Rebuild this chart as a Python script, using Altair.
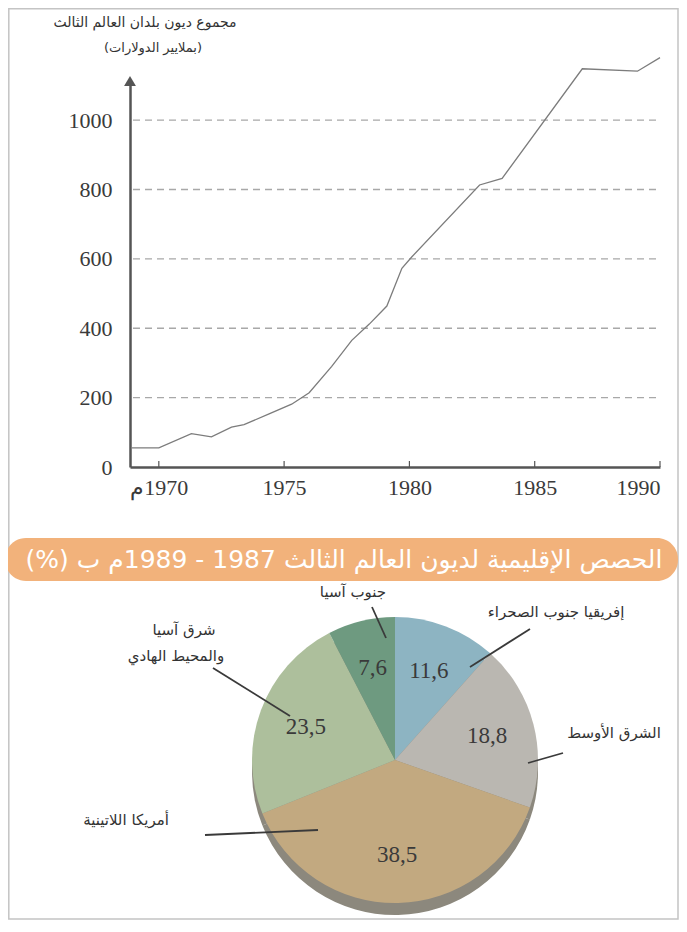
import altair as alt
import pandas as pd

# ---------------- data ----------------
years = [1968.9, 1970.0, 1971.3, 1972.1, 1972.9, 1973.4, 1974.4, 1975.3, 1976.0,
         1976.9, 1977.7, 1978.4, 1979.1, 1979.7, 1980.1, 1982.8, 1983.7, 1986.9,
         1989.1, 1990.0]
debt = [55, 55, 96, 87, 115, 122, 153, 181, 214, 290, 365, 412, 464, 573, 606,
        813, 832, 1148, 1141, 1180]
y_ticks = [0, 200, 400, 600, 800, 1000]
x_ticks = [1970, 1975, 1980, 1985, 1990]

regions = ["إفريقيا جنوب الصحراء", "الشرق الأوسط", "أمريكا اللاتينية",
           "شرق آسيا والمحيط الهادي", "جنوب آسيا"]
shares = [11.6, 18.8, 38.5, 23.5, 7.6]
share_labels = ["11,6", "18,8", "38,5", "23,5", "7,6"]
colors = ["#8db4c2", "#bab7b1", "#c2a980", "#adbf9c", "#6e9a80"]

RLM = "\u200f"
def rtl(s):
    return RLM + s + RLM

title1 = rtl("مجموع ديون بلدان العالم الثالث")
title2 = rtl("(بملايير الدولارات)")
banner_text = rtl("الحصص الإقليمية لديون العالم الثالث 1987 - 1989م ب (%)")
first_year_label = rtl("1970م")

W, H = 671, 912
AR = "DejaVu Sans"
SERIF = "Liberation Serif"

line_df = pd.DataFrame({"year": years, "debt": debt})
grid_df = pd.DataFrame({"v": y_ticks[1:]})
xt_df = pd.DataFrame({"t": x_ticks})
pie_df = pd.DataFrame({"region": regions, "share": shares, "label": share_labels,
                       "k": list(range(len(regions)))})
one = pd.DataFrame({"a": [0]})

xs = alt.Scale(domain=[1968.85, 1990], range=[122, 652], nice=False, zero=False)
ys = alt.Scale(domain=[0, 1107], range=[459, 75], nice=False, zero=False)

# ---------------- line chart ----------------
grid = alt.Chart(grid_df).mark_rule(color="#a8a8a8", strokeWidth=1.3, strokeDash=[7, 5]).encode(
    y=alt.Y("v:Q", scale=ys),
    x=alt.value(125), x2=alt.value(652))

xticks = alt.Chart(xt_df).mark_rule(color="#555", strokeWidth=1.2).encode(
    x=alt.X("t:Q", scale=xs), y=alt.value(453), y2=alt.value(459))

line = alt.Chart(line_df).mark_line(color="#7c7c7c", strokeWidth=1.3).encode(
    x=alt.X("year:Q", scale=xs,
            axis=alt.Axis(values=x_ticks, format="d", offset=459 - H, domainColor="#555",
                          domainWidth=2.5, ticks=False, grid=False, title=None,
                          labelFont=SERIF, labelFontSize=22, labelColor="#3a3a3a",
                          labelPadding=10,
                          labelExpr="datum.value == 1970 ? '" + first_year_label + "' : datum.label")),
    y=alt.Y("debt:Q", scale=ys,
            axis=alt.Axis(values=y_ticks, format="d", offset=-122, domainColor="#555",
                          domainWidth=2.5, ticks=False, grid=False, title=None,
                          labelFont=SERIF, labelFontSize=22, labelColor="#3a3a3a",
                          labelPadding=18)))

arrow = alt.Chart(one).mark_point(shape="triangle-up", filled=True, color="#555",
                                  size=140, opacity=1).encode(
    x=alt.value(122), y=alt.value(73))

t1 = alt.Chart(one).mark_text(text=title1, font=AR, fontSize=14, color="#333").encode(
    x=alt.value(137), y=alt.value(15))
t2 = alt.Chart(one).mark_text(text=title2, font=AR, fontSize=13, color="#333").encode(
    x=alt.value(145), y=alt.value(40))

# ---------------- banner ----------------
banner = alt.Chart(one).mark_rect(color="#f2b27b", cornerRadius=21).encode(
    x=alt.value(-3), x2=alt.value(670), y=alt.value(530), y2=alt.value(573))
banner_t = alt.Chart(one).mark_text(text=banner_text, font=AR, fontSize=25,
                                    color="white").encode(
    x=alt.value(336), y=alt.value(552))

# ---------------- pie ----------------
CX, CY, R = 387, 752, 143
shadow = alt.Chart(pie_df).mark_arc(color="#8c887d").encode(
    theta=alt.Theta("share:Q", stack=True), order=alt.Order("k:Q"),
    x=alt.value(CX), y=alt.value(CY + 12), radius=alt.value(R))
pie = alt.Chart(pie_df).mark_arc().encode(
    theta=alt.Theta("share:Q", stack=True), order=alt.Order("k:Q"),
    color=alt.Color("region:N", scale=alt.Scale(domain=regions, range=colors), legend=None),
    x=alt.value(CX), y=alt.value(CY), radius=alt.value(R))
vals = alt.Chart(pie_df).mark_text(font=SERIF, fontSize=23, color="#3a3a3a", radius=95).encode(
    theta=alt.Theta("share:Q", stack=True), order=alt.Order("k:Q"),
    text="label:N", x=alt.value(CX), y=alt.value(CY))

def lab(txt, x, y, size=15):
    return alt.Chart(one).mark_text(text=rtl(txt), font=AR, fontSize=size,
                                    color="#333").encode(x=alt.value(x), y=alt.value(y))

def lead(x1, y1, x2, y2):
    return alt.Chart(one).mark_rule(color="#3a3a3a", strokeWidth=1.8).encode(
        x=alt.value(x1), y=alt.value(y1), x2=alt.value(x2), y2=alt.value(y2))

labels = [
    lab("جنوب آسيا", 345, 584),
    lab("إفريقيا جنوب الصحراء", 548, 604),
    lab("الشرق الأوسط", 606, 725),
    lab("شرق آسيا", 176, 622),
    lab("والمحيط الهادي", 168, 648),
    lab("أمريكا اللاتينية", 118, 812),
]
leaders = [
    lead(364, 599, 378, 630),
    lead(522, 621, 462, 659),
    lead(555, 745, 520, 755),
    lead(205, 660, 282, 708),
    lead(197, 827, 310, 822),
]

frame = alt.Chart(one).mark_rect(fill=None, stroke="#c4c4c4", strokeWidth=1.5).encode(
    x=alt.value(0.8), x2=alt.value(670), y=alt.value(0.8), y2=alt.value(H - 1))

chart = alt.layer(
    frame, grid, xticks, line, arrow, t1, t2, banner, banner_t,
    shadow, pie, vals, *leaders, *labels
).properties(
    width=W, height=H, autosize=alt.AutoSizeParams(type="none"), padding=0,
    background="white"
).configure_view(stroke=None)

chart.save("out.html", embed_options={"renderer": "svg", "actions": False})
